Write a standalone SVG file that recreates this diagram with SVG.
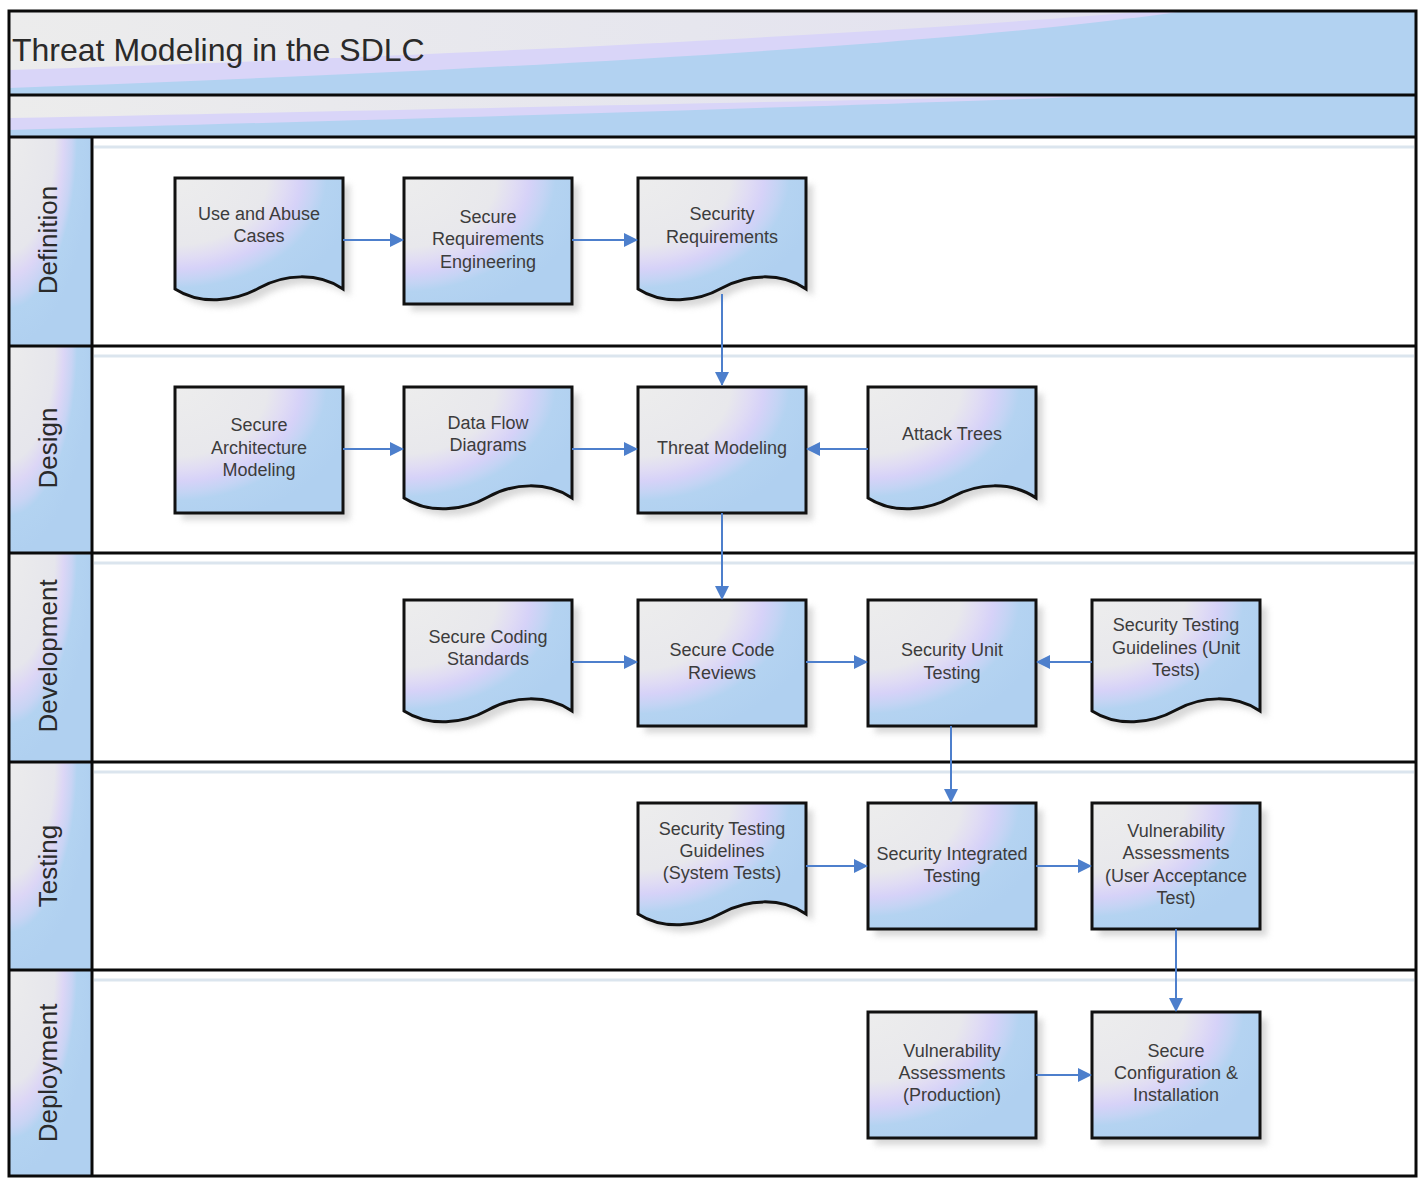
<svg xmlns="http://www.w3.org/2000/svg" width="1421" height="1178" viewBox="0 0 1421 1178">
  <style>
    .lane-line { stroke: #0a0a0a; stroke-width: 3; fill: none; }
    .lane-hint { stroke: #dbe5ee; stroke-width: 3; fill: none; }
    .box { stroke: #111; stroke-width: 3; fill: url(#swirl); }
    .shadow { fill: #b8b8b8; opacity: 0.55; filter: url(#soft); }
    .label { font-family: "Liberation Sans", Arial, sans-serif; font-size: 18px; fill: #3c3c3c; text-anchor: middle; }
    .lane-label { font-family: "Liberation Sans", Arial, sans-serif; font-size: 26px; fill: #2a2a2a; text-anchor: middle; }
    .title { font-family: "Liberation Sans", Arial, sans-serif; font-size: 32px; fill: #2a2a2a; }
    .edge { stroke: #4d7fcc; stroke-width: 2; fill: none; marker-end: url(#arrow); }
  </style>
  <defs>
    <radialGradient id="swirl" cx="0" cy="0" r="1.1" gradientUnits="objectBoundingBox">
      <stop offset="0" stop-color="#ededed"/>
      <stop offset="0.5" stop-color="#e8e8ec"/>
      <stop offset="0.6" stop-color="#e0dcf4"/>
      <stop offset="0.68" stop-color="#d6d2f8"/>
      <stop offset="0.76" stop-color="#c4d4f4"/>
      <stop offset="0.82" stop-color="#b4d3f1"/>
      <stop offset="1" stop-color="#b0d0f0"/>
    </radialGradient>
    <radialGradient id="laneSwirl" cx="0" cy="0" r="1.0" gradientUnits="objectBoundingBox">
      <stop offset="0" stop-color="#ececec"/>
      <stop offset="0.55" stop-color="#e6e6ec"/>
      <stop offset="0.66" stop-color="#dcd6f6"/>
      <stop offset="0.76" stop-color="#c8d4f4"/>
      <stop offset="0.82" stop-color="#b3d3f1"/>
      <stop offset="1" stop-color="#b0d0f0"/>
    </radialGradient>
    <linearGradient id="greyBand" x1="0" y1="0" x2="1" y2="0">
      <stop offset="0" stop-color="#ececec"/>
      <stop offset="0.6" stop-color="#e6e6ee"/>
      <stop offset="1" stop-color="#e2e0f0"/>
    </linearGradient>
    <filter id="soft" x="-10%" y="-10%" width="130%" height="130%">
      <feGaussianBlur stdDeviation="3"/>
    </filter>
    <marker id="arrow" viewBox="0 0 14 14" refX="13" refY="7" markerWidth="14" markerHeight="14" markerUnits="userSpaceOnUse" orient="auto">
      <path d="M0,0 L14,7 L0,14 Z" fill="#4d7fcc"/>
    </marker>
    <!-- shape templates, drawn at the origin and moved into place -->
    <rect id="proc" x="0" y="0" width="168" height="126"/>
    <path id="doc" d="M0,0 H168 V111 C143,94 109,96 84,110 C59,124 25,127 0,111 Z"/>
  </defs>

  <!-- page background -->
  <rect x="0" y="0" width="1421" height="1178" fill="#ffffff"/>

  <!-- title band -->
  <g id="title-band">
    <rect x="9" y="11" width="1407" height="84" fill="#b2d2f1"/>
    <path d="M9,11 H1185 C1000,38 620,66 9,88 Z" fill="#d9d5f8"/>
    <path d="M9,11 H1150 C950,28 560,52 9,70 Z" fill="url(#greyBand)"/>
    <text class="title" x="12" y="61">Threat Modeling in the SDLC</text>
  </g>

  <!-- second header band -->
  <g id="header-band">
    <rect x="9" y="95" width="1407" height="42" fill="#b2d2f1"/>
    <path d="M9,95 H1130 C900,104 520,116 9,130 Z" fill="#d9d5f8"/>
    <path d="M9,95 H1080 C860,100 500,108 9,118 Z" fill="url(#greyBand)"/>
  </g>

  <!-- swimlanes -->
  <g id="lanes">
    <rect x="9" y="137" width="83" height="209" fill="url(#laneSwirl)"/>
    <rect x="9" y="346" width="83" height="207" fill="url(#laneSwirl)"/>
    <rect x="9" y="553" width="83" height="209" fill="url(#laneSwirl)"/>
    <rect x="9" y="762" width="83" height="208" fill="url(#laneSwirl)"/>
    <rect x="9" y="970" width="83" height="206" fill="url(#laneSwirl)"/>

    <line class="lane-hint" x1="94" y1="147" x2="1414" y2="147"/>
    <line class="lane-hint" x1="94" y1="356" x2="1414" y2="356"/>
    <line class="lane-hint" x1="94" y1="563" x2="1414" y2="563"/>
    <line class="lane-hint" x1="94" y1="772" x2="1414" y2="772"/>
    <line class="lane-hint" x1="94" y1="980" x2="1414" y2="980"/>

    <text class="lane-label" transform="translate(57,240) rotate(-90)">Definition</text>
    <text class="lane-label" transform="translate(57,448) rotate(-90)">Design</text>
    <text class="lane-label" transform="translate(57,656) rotate(-90)">Development</text>
    <text class="lane-label" transform="translate(57,866) rotate(-90)">Testing</text>
    <text class="lane-label" transform="translate(57,1073) rotate(-90)">Deployment</text>

    <line class="lane-line" x1="9" y1="95" x2="1416" y2="95"/>
    <line class="lane-line" x1="9" y1="137" x2="1416" y2="137"/>
    <line class="lane-line" x1="9" y1="346" x2="1416" y2="346"/>
    <line class="lane-line" x1="9" y1="553" x2="1416" y2="553"/>
    <line class="lane-line" x1="9" y1="762" x2="1416" y2="762"/>
    <line class="lane-line" x1="9" y1="970" x2="1416" y2="970"/>
    <line class="lane-line" x1="92" y1="137" x2="92" y2="1176"/>
    <rect class="lane-line" x="9" y="11" width="1407" height="1165"/>
  </g>

  <!-- Definition -->
  <g id="use-abuse-cases" transform="translate(175,178)">
    <use href="#doc" class="shadow" x="7" y="7"/>
    <use href="#doc" class="box"/>
    <text class="label" x="84" y="42">Use and Abuse</text>
    <text class="label" x="84" y="64">Cases</text>
  </g>
  <g id="secure-req-eng" transform="translate(404,178)">
    <use href="#proc" class="shadow" x="7" y="7"/>
    <use href="#proc" class="box"/>
    <text class="label" x="84" y="45">Secure</text>
    <text class="label" x="84" y="67">Requirements</text>
    <text class="label" x="84" y="90">Engineering</text>
  </g>
  <g id="security-requirements" transform="translate(638,178)">
    <use href="#doc" class="shadow" x="7" y="7"/>
    <use href="#doc" class="box"/>
    <text class="label" x="84" y="42">Security</text>
    <text class="label" x="84" y="65">Requirements</text>
  </g>

  <!-- Design -->
  <g id="secure-arch-modeling" transform="translate(175,387)">
    <use href="#proc" class="shadow" x="7" y="7"/>
    <use href="#proc" class="box"/>
    <text class="label" x="84" y="44">Secure</text>
    <text class="label" x="84" y="67">Architecture</text>
    <text class="label" x="84" y="89">Modeling</text>
  </g>
  <g id="data-flow-diagrams" transform="translate(404,387)">
    <use href="#doc" class="shadow" x="7" y="7"/>
    <use href="#doc" class="box"/>
    <text class="label" x="84" y="42">Data Flow</text>
    <text class="label" x="84" y="64">Diagrams</text>
  </g>
  <g id="threat-modeling" transform="translate(638,387)">
    <use href="#proc" class="shadow" x="7" y="7"/>
    <use href="#proc" class="box"/>
    <text class="label" x="84" y="67">Threat Modeling</text>
  </g>
  <g id="attack-trees" transform="translate(868,387)">
    <use href="#doc" class="shadow" x="7" y="7"/>
    <use href="#doc" class="box"/>
    <text class="label" x="84" y="53">Attack Trees</text>
  </g>

  <!-- Development -->
  <g id="secure-coding-standards" transform="translate(404,600)">
    <use href="#doc" class="shadow" x="7" y="7"/>
    <use href="#doc" class="box"/>
    <text class="label" x="84" y="43">Secure Coding</text>
    <text class="label" x="84" y="65">Standards</text>
  </g>
  <g id="secure-code-reviews" transform="translate(638,600)">
    <use href="#proc" class="shadow" x="7" y="7"/>
    <use href="#proc" class="box"/>
    <text class="label" x="84" y="56">Secure Code</text>
    <text class="label" x="84" y="79">Reviews</text>
  </g>
  <g id="security-unit-testing" transform="translate(868,600)">
    <use href="#proc" class="shadow" x="7" y="7"/>
    <use href="#proc" class="box"/>
    <text class="label" x="84" y="56">Security Unit</text>
    <text class="label" x="84" y="79">Testing</text>
  </g>
  <g id="stg-unit-tests" transform="translate(1092,600)">
    <use href="#doc" class="shadow" x="7" y="7"/>
    <use href="#doc" class="box"/>
    <text class="label" x="84" y="31">Security Testing</text>
    <text class="label" x="84" y="54">Guidelines (Unit</text>
    <text class="label" x="84" y="76">Tests)</text>
  </g>

  <!-- Testing -->
  <g id="stg-system-tests" transform="translate(638,803)">
    <use href="#doc" class="shadow" x="7" y="7"/>
    <use href="#doc" class="box"/>
    <text class="label" x="84" y="32">Security Testing</text>
    <text class="label" x="84" y="54">Guidelines</text>
    <text class="label" x="84" y="76">(System Tests)</text>
  </g>
  <g id="security-integrated-testing" transform="translate(868,803)">
    <use href="#proc" class="shadow" x="7" y="7"/>
    <use href="#proc" class="box"/>
    <text class="label" x="84" y="57">Security Integrated</text>
    <text class="label" x="84" y="79">Testing</text>
  </g>
  <g id="va-user-acceptance" transform="translate(1092,803)">
    <use href="#proc" class="shadow" x="7" y="7"/>
    <use href="#proc" class="box"/>
    <text class="label" x="84" y="34">Vulnerability</text>
    <text class="label" x="84" y="56">Assessments</text>
    <text class="label" x="84" y="79">(User Acceptance</text>
    <text class="label" x="84" y="101">Test)</text>
  </g>

  <!-- Deployment -->
  <g id="va-production" transform="translate(868,1012)">
    <use href="#proc" class="shadow" x="7" y="7"/>
    <use href="#proc" class="box"/>
    <text class="label" x="84" y="45">Vulnerability</text>
    <text class="label" x="84" y="67">Assessments</text>
    <text class="label" x="84" y="89">(Production)</text>
  </g>
  <g id="secure-config-install" transform="translate(1092,1012)">
    <use href="#proc" class="shadow" x="7" y="7"/>
    <use href="#proc" class="box"/>
    <text class="label" x="84" y="45">Secure</text>
    <text class="label" x="84" y="67">Configuration &amp;</text>
    <text class="label" x="84" y="89">Installation</text>
  </g>

  <!-- connectors -->
  <g id="connectors">
    <line class="edge" x1="343" y1="240" x2="403" y2="240"/>
    <line class="edge" x1="572" y1="240" x2="637" y2="240"/>
    <line class="edge" x1="722" y1="294" x2="722" y2="385"/>
    <line class="edge" x1="343" y1="449" x2="403" y2="449"/>
    <line class="edge" x1="572" y1="449" x2="637" y2="449"/>
    <line class="edge" x1="868" y1="449" x2="807" y2="449"/>
    <line class="edge" x1="722" y1="513" x2="722" y2="599"/>
    <line class="edge" x1="572" y1="662" x2="637" y2="662"/>
    <line class="edge" x1="806" y1="662" x2="867" y2="662"/>
    <line class="edge" x1="1092" y1="662" x2="1037" y2="662"/>
    <line class="edge" x1="951" y1="726" x2="951" y2="802"/>
    <line class="edge" x1="806" y1="866" x2="867" y2="866"/>
    <line class="edge" x1="1036" y1="866" x2="1091" y2="866"/>
    <line class="edge" x1="1176" y1="929" x2="1176" y2="1011"/>
    <line class="edge" x1="1036" y1="1075" x2="1091" y2="1075"/>
  </g>
</svg>
